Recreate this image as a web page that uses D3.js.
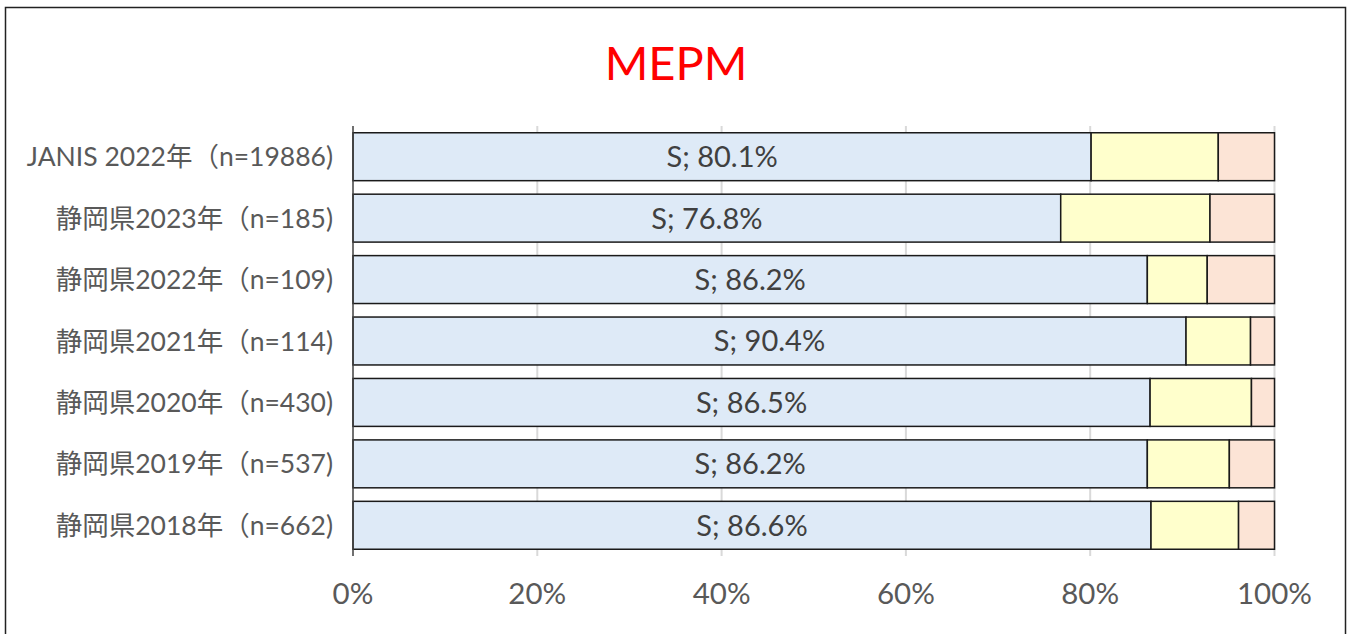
<!DOCTYPE html>
<html>
<head>
<meta charset="utf-8">
<script src="https://cdn.jsdelivr.net/npm/d3@7"></script>
<style>
  body { margin: 0; background: #fff; }
  svg text { font-family: Lato, "Noto Sans CJK JP", sans-serif; }
</style>
</head>
<body>
<div id="chart"></div>
<script>
// Data
const categories = [
  "JANIS 2022年（n=19886)",
  "静岡県2023年（n=185)",
  "静岡県2022年（n=109)",
  "静岡県2021年（n=114)",
  "静岡県2020年（n=430)",
  "静岡県2019年（n=537)",
  "静岡県2018年（n=662)",
];
const sValues = [80.1, 76.8, 86.2, 90.4, 86.5, 86.2, 86.6];
const iValues = [13.8, 16.2, 6.5, 7.0, 11.0, 8.9, 9.5];
const rValues = [6.1, 7.0, 7.3, 2.6, 2.5, 4.9, 3.9];
const seriesKeys = ["S", "I", "R"];
const tickValues = [0, 20, 40, 60, 80, 100];

// Sizes
const W = 1351, H = 634;
const margin = { top: 126, right: 77, bottom: 78, left: 353 };

// Colors
const colors = { S: "#DEEAF7", I: "#FFFFCC", R: "#FCE4D6" };

const rows = categories.map((c, i) => ({
  cat: c, S: sValues[i], I: iValues[i], R: rValues[i],
}));

const svg = d3.select("#chart").append("svg")
  .attr("width", W).attr("height", H);

// Outer frame
svg.append("rect")
  .attr("x", 5.5).attr("y", 7.5)
  .attr("width", 1340).attr("height", 650)
  .attr("fill", "#fff").attr("stroke", "#222").attr("stroke-width", 1.5);

// Title
svg.append("text")
  .attr("x", 676).attr("y", 80)
  .attr("text-anchor", "middle")
  .attr("fill", "#FF0000")
  .style("font-size", "47px")
  .text("MEPM");

const x = d3.scaleLinear().domain([0, 100])
  .range([margin.left, W - margin.right + 0.5]);
const y = d3.scaleBand().domain(categories)
  .range([margin.top, H - margin.bottom]).paddingInner(0.22).paddingOuter(0.11);

// Gridlines
svg.append("g").selectAll("line")
  .data(tickValues.slice(1))
  .join("line")
  .attr("x1", d => x(d)).attr("x2", d => x(d))
  .attr("y1", margin.top).attr("y2", H - margin.bottom)
  .attr("stroke", "#D9D9D9").attr("stroke-width", 2);

// Stacked bars
const stack = d3.stack().keys(seriesKeys)(rows);

svg.append("g").selectAll("g")
  .data(stack)
  .join("g")
  .attr("fill", d => colors[d.key])
  .selectAll("rect")
  .data(d => d)
  .join("rect")
  .attr("x", d => x(d[0]))
  .attr("y", d => y(d.data.cat))
  .attr("width", d => x(d[1]) - x(d[0]))
  .attr("height", y.bandwidth())
  .attr("stroke", "#1a1a1a")
  .attr("stroke-width", 1.5);

// S labels
svg.append("g").selectAll("text")
  .data(rows)
  .join("text")
  .attr("x", d => (x(0) + x(d.S)) / 2)
  .attr("y", d => y(d.cat) + y.bandwidth() / 2)
  .attr("dy", "0.36em")
  .attr("text-anchor", "middle")
  .attr("fill", "#404040")
  .style("font-size", "29px")
  .text(d => "S; " + d.S.toFixed(1) + "%");

// Y axis line
svg.append("line")
  .attr("x1", x(0)).attr("x2", x(0))
  .attr("y1", margin.top).attr("y2", H - margin.bottom)
  .attr("stroke", "#404040").attr("stroke-width", 1.5);

// Category labels
svg.append("g").selectAll("text")
  .data(categories)
  .join("text")
  .attr("x", 333)
  .attr("y", d => y(d) + y.bandwidth() / 2)
  .attr("dy", "0.36em")
  .attr("text-anchor", "end")
  .attr("fill", "#595959")
  .style("font-size", "26.5px")
  .text(d => d);

// X tick labels
svg.append("g").selectAll("text")
  .data(tickValues)
  .join("text")
  .attr("x", d => x(d))
  .attr("y", 604)
  .attr("text-anchor", "middle")
  .attr("fill", "#595959")
  .style("font-size", "29.5px")
  .text(d => d + "%");
</script>
</body>
</html>
